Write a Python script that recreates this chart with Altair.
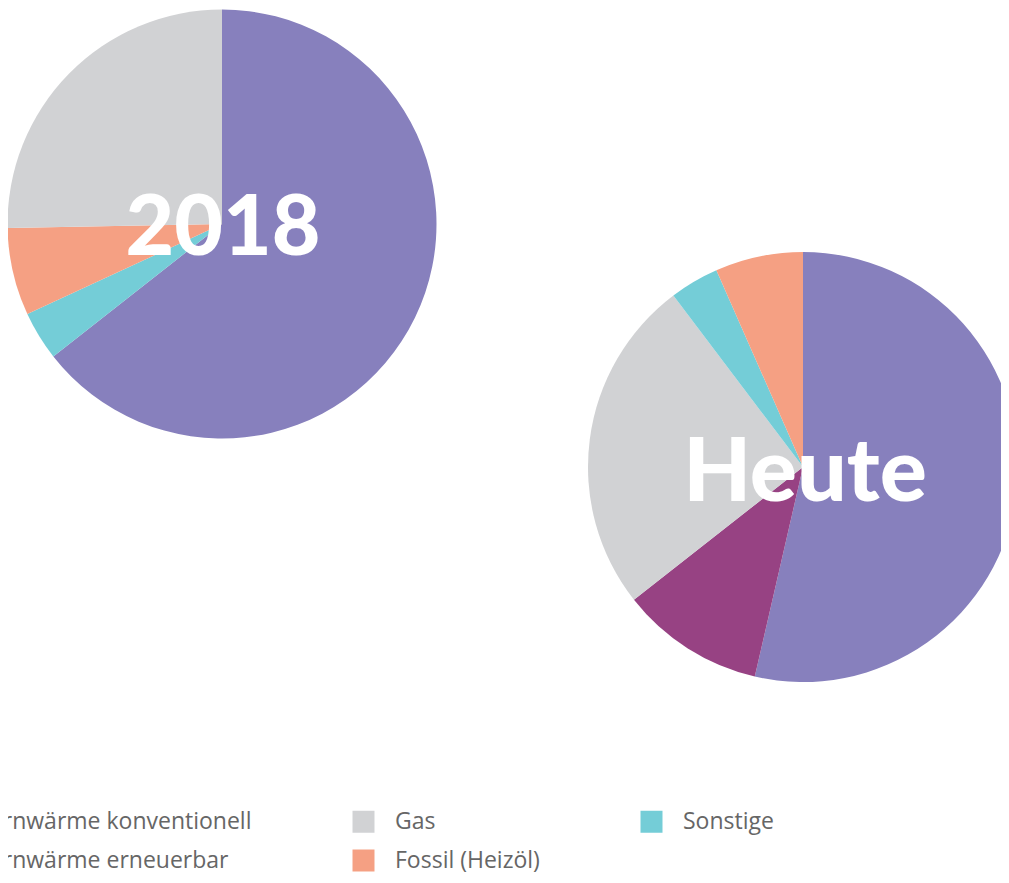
import altair as alt
import pandas as pd

categories = ["Fernwärme konventionell", "Gas", "Sonstige", "Fernwärme erneuerbar", "Fossil (Heizöl)"]
colors = ["#8780BD", "#D1D2D4", "#74CDD7", "#974283", "#F5A083"]

pie_2018_cats = ["Fernwärme konventionell", "Sonstige", "Fossil (Heizöl)", "Gas"]
pie_2018_vals = [64.4, 3.7, 6.6, 25.3]

pie_heute_cats = ["Fernwärme konventionell", "Fernwärme erneuerbar", "Gas", "Sonstige", "Fossil (Heizöl)"]
pie_heute_vals = [53.6, 10.8, 25.3, 3.7, 6.6]

titles = ["2018", "Heute"]

rows = []
for i, (c, v) in enumerate(zip(pie_2018_cats, pie_2018_vals)):
    rows.append({"pie": "2018", "cat": c, "val": v, "ord": i})
for i, (c, v) in enumerate(zip(pie_heute_cats, pie_heute_vals)):
    rows.append({"pie": "Heute", "cat": c, "val": v, "ord": i})
df = pd.DataFrame(rows)

color = alt.Color(
    "cat:N",
    scale=alt.Scale(domain=categories, range=colors),
    legend=alt.Legend(
        title=None,
        orient="none",
        legendX=-73,
        legendY=802,
        direction="horizontal",
        columns=3,
        symbolType="square",
        symbolSize=484,
        symbolStrokeWidth=0,
        labelFont="Open Sans",
        labelFontSize=23,
        labelColor="#666666",
        labelOffset=20,
        labelLimit=400,
        rowPadding=15,
        columnPadding=100,
        padding=0,
    ),
)

base = alt.Chart(df)

pie1 = base.transform_filter(alt.datum.pie == "2018").mark_arc(radius=214.5).encode(
    theta=alt.Theta("val:Q", stack=True),
    color=color,
    order=alt.Order("ord:Q"),
    x=alt.value(214),
    y=alt.value(216),
)
pie2 = base.transform_filter(alt.datum.pie == "Heute").mark_arc(radius=215).encode(
    theta=alt.Theta("val:Q", stack=True),
    color=color,
    order=alt.Order("ord:Q"),
    x=alt.value(795),
    y=alt.value(459),
)

tdf = pd.DataFrame({"t": titles})
t1 = alt.Chart(tdf).transform_filter(alt.datum.t == "2018").mark_text(
    font="Lato", fontWeight=900, fontSize=84, color="white", align="center", baseline="middle"
).encode(text="t:N", x=alt.value(215), y=alt.value(222))
t2 = alt.Chart(tdf).transform_filter(alt.datum.t == "Heute").mark_text(
    font="Lato", fontWeight=900, fontSize=88, color="white", align="center", baseline="middle"
).encode(text="t:N", x=alt.value(797), y=alt.value(467))

chart = alt.layer(pie1, pie2, t1, t2).properties(
    width=993, height=866,
    autosize=alt.AutoSizeParams(type="none"),
    padding=0,
).configure_view(stroke=None)

chart.save("out.html", embed_options={"renderer": "svg", "actions": False})
